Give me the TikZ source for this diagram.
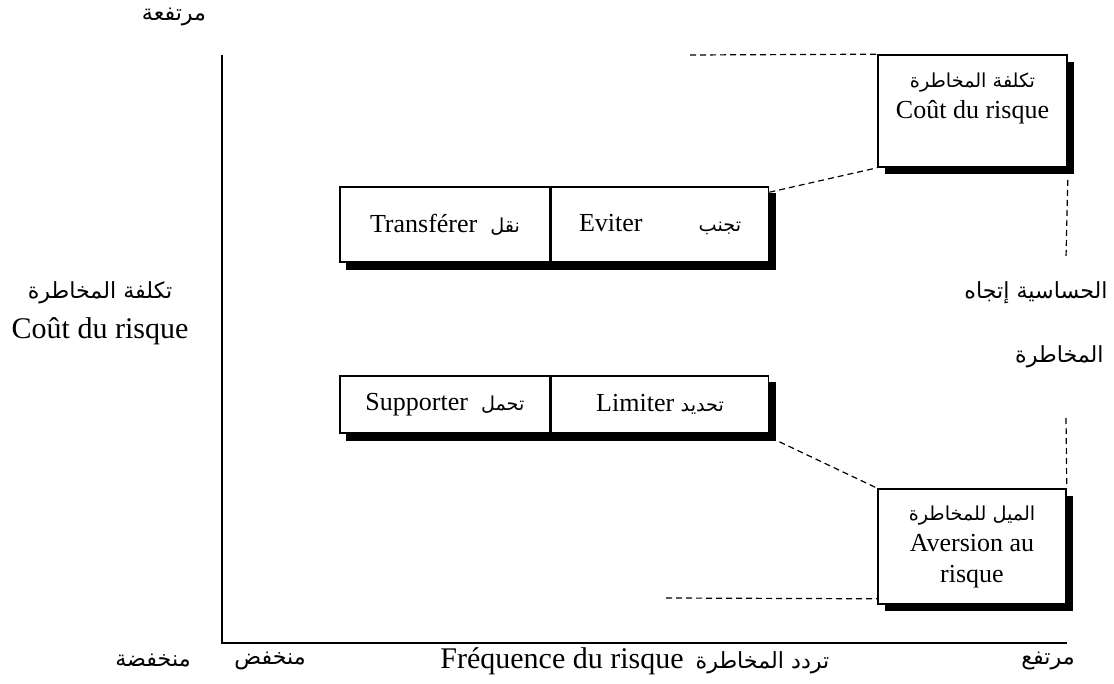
\documentclass[tikz,border=0pt]{standalone}
\usepackage{fontspec}
\setmainfont{Liberation Serif}
\newfontfamily\arabicfont[Script=Arabic,Scale=0.74]{DejaVu Sans}
\TeXXeTstate=1
\newcommand{\ar}[1]{{\arabicfont\beginR #1\endR}}
\usetikzlibrary{positioning, shadows, backgrounds}

\tikzset{
  shadowbox/.style={draw, thick, fill=white, align=center, inner sep=0pt,
    font=\fontsize{13}{15.5}\selectfont,
    drop shadow={shadow xshift=3.5pt, shadow yshift=-3.5pt, opacity=1, fill=black}},
  cell/.style={draw, thick, fill=white, inner sep=0pt,
    font=\fontsize{13}{15.5}\selectfont, minimum height=#1},
  cell/.default=37.5pt,
  dashline/.style={line width=0.6pt, dash pattern=on 3pt off 2pt},
  axislabel/.style={font=\fontsize{15}{20}\selectfont, align=center, inner sep=0pt}
}

\begin{document}
\begin{tikzpicture}[x=0.5pt, y=-0.5pt]
\useasboundingbox (0,0) rectangle (1114,684);
% axes
\coordinate (ytop) at (222,55);
\coordinate (origin) at (222,643);
\coordinate (xend) at (1067,643);
\draw[thick] (ytop) -- (origin) -- (xend);

% strategies
\node[cell, minimum width=105pt] (transfer) at (445,224.5) {Transférer~~\ar{نقل}};
\node[cell, minimum width=108.5pt, right=0pt of transfer] (avoid) {Eviter\hspace{28pt}\ar{تجنب}};
\node[cell=28.5pt, minimum width=105pt] (bear) at (445,404.5) {Supporter~~\ar{تحمل}};
\node[cell=28.5pt, minimum width=108.5pt, right=0pt of bear] (limit) {Limiter \ar{تحديد}};
\begin{scope}[on background layer]
\fill ([shift={(3.5pt,-3.5pt)}]transfer.south west) rectangle ([shift={(3.5pt,-3.5pt)}]avoid.north east);
\fill ([shift={(3.5pt,-3.5pt)}]bear.south west) rectangle ([shift={(3.5pt,-3.5pt)}]limit.north east);
\end{scope}

% boxes on the right
\node[shadowbox, minimum width=94.5pt, minimum height=56pt] (cost) at (972.5,111)
  {\ar{تكلفة المخاطرة}\\Coût du risque\\~};
\node[shadowbox, minimum width=94pt, minimum height=57.5pt] (aversion) at (972,546.5)
  {\ar{الميل للمخاطرة}\\Aversion au\\risque};

% dashed guides
\coordinate (costtail) at (690,55);
\coordinate (senstop) at (1066,258);
\coordinate (sensbot) at (1066,418);
\coordinate (aversiontail) at (666,598);
\draw[dashline] (costtail) -- (cost.north west);
\draw[dashline] ([yshift=-3pt]avoid.north east) -- (cost.south west);
\draw[dashline] ([yshift=-6pt]cost.south east) -- (senstop);
\draw[dashline] (sensbot) -- (aversion.north east);
\draw[dashline] ([shift={(5pt,-4pt)}]limit.south east) -- (aversion.north west);
\draw[dashline] (aversiontail) -- ([yshift=3pt]aversion.south west);

% labels
\node[axislabel] (high) at (174,17) {\ar{مرتفعة}};
\node[axislabel] (costaxis) at (100,313) {\ar{تكلفة المخاطرة}\\Coût du risque};
\node[axislabel, anchor=east] (sens) at (1108,293) {\ar{الحساسية إتجاه}};
\node[axislabel, anchor=east] (risk) at (1104,357) {\ar{المخاطرة}};
\node[axislabel] (lowcost) at (153,661) {\ar{منخفضة}};
\node[axislabel] (lowfreq) at (270,661) {\ar{منخفض}};
\node[axislabel, anchor=west] (freq) at (440,661) {Fréquence du risque\hspace{6pt}\ar{تردد المخاطرة}};
\node[axislabel] (highfreq) at (1048,661) {\ar{مرتفع}};
\end{tikzpicture}
\end{document}
